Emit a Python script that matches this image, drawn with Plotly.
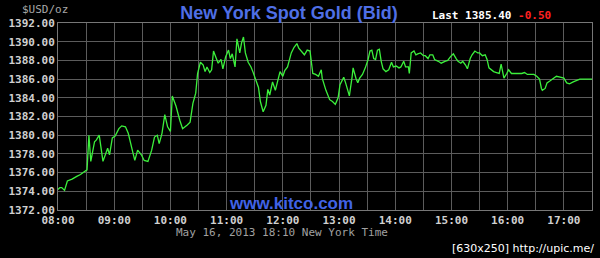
import plotly.graph_objects as go

DATE = "2013-05-16"
times = [
    "08:00", "08:02", "08:04", "08:07", "08:10", "08:15", "08:20", "08:24", "08:28", "08:31",
    "08:33", "08:35", "08:39", "08:41", "08:44", "08:48", "08:53", "08:55", "08:58", "09:01",
    "09:05", "09:08", "09:12", "09:15", "09:20", "09:22", "09:25", "09:29", "09:32", "09:36",
    "09:40", "09:43", "09:46", "09:48", "09:51", "09:54", "09:57", "10:00", "10:02", "10:06",
    "10:10", "10:13", "10:18", "10:21", "10:24", "10:27", "10:29", "10:32", "10:35", "10:37",
    "10:39", "10:42", "10:44", "10:46", "10:49", "10:51", "10:54", "10:56", "10:59", "11:02",
    "11:04", "11:06", "11:09", "11:11", "11:14", "11:16", "11:18", "11:20", "11:23", "11:26",
    "11:28", "11:31", "11:34", "11:36", "11:39", "11:42", "11:44", "11:46", "11:49", "11:52",
    "11:54", "11:57", "12:00", "12:02", "12:05", "12:09", "12:12", "12:15", "12:17", "12:20",
    "12:23", "12:26", "12:29", "12:32", "12:35", "12:38", "12:41", "12:42", "12:46", "12:50",
    "12:53", "12:56", "12:59", "13:01", "13:05", "13:07", "13:11", "13:14", "13:15", "13:18",
    "13:20", "13:22", "13:25", "13:28", "13:31", "13:33", "13:35", "13:37", "13:39", "13:41",
    "13:43", "13:45", "13:47", "13:50", "13:53", "13:56", "13:58", "14:01", "14:04", "14:06",
    "14:09", "14:11", "14:14", "14:15", "14:17", "14:20", "14:22", "14:24", "14:27", "14:30",
    "14:32", "14:35", "14:37", "14:40", "14:42", "14:46", "14:49", "14:53", "14:56", "14:59",
    "15:02", "15:05", "15:07", "15:10", "15:12", "15:15", "15:17", "15:20", "15:22", "15:25",
    "15:28", "15:30", "15:33", "15:36", "15:38", "15:40", "15:43", "15:45", "15:48", "15:51",
    "15:53", "15:55", "15:56", "15:59", "16:01", "16:04", "16:08", "16:11", "16:15", "16:18",
    "16:21", "16:25", "16:28", "16:31", "16:34", "16:36", "16:37", "16:40", "16:42", "16:45",
    "16:49", "16:52", "16:56", "17:00", "17:03", "17:06", "17:10", "17:13", "17:17", "17:21",
    "17:26", "17:30",
]
prices = [
    1374.2, 1374.4, 1374.4, 1374.1, 1375.1, 1375.3, 1375.6, 1375.8, 1376.1, 1376.3,
    1380.0, 1377.2, 1379.3, 1379.5, 1380.0, 1377.2, 1378.6, 1377.9, 1379.7, 1379.9,
    1380.7, 1381.0, 1380.9, 1380.2, 1378.1, 1377.3, 1378.4, 1377.9, 1377.3, 1377.2,
    1378.4, 1379.8, 1380.0, 1379.1, 1380.2, 1382.2, 1380.9, 1380.4, 1384.2, 1383.1,
    1381.6, 1380.7, 1381.1, 1381.4, 1383.4, 1384.5, 1386.6, 1387.8, 1387.5, 1386.8,
    1387.3, 1386.7, 1387.0, 1389.0, 1388.2, 1387.7, 1388.1, 1387.1, 1388.4, 1389.1,
    1388.2, 1388.7, 1387.3, 1390.3, 1388.8, 1389.9, 1390.5, 1388.8, 1387.8, 1387.3,
    1386.8, 1386.0, 1385.1, 1383.6, 1382.5, 1383.2, 1384.9, 1384.3, 1385.7, 1384.8,
    1385.6, 1386.8, 1386.3, 1386.9, 1387.3, 1388.8, 1389.4, 1389.8, 1389.3, 1389.0,
    1388.6, 1389.1, 1389.0, 1386.6, 1386.5, 1386.3, 1387.0, 1386.1, 1384.8, 1383.8,
    1383.6, 1383.3, 1384.0, 1385.4, 1386.2, 1385.6, 1384.2, 1386.3, 1387.2, 1386.1,
    1385.6, 1386.1, 1386.5, 1387.2, 1388.1, 1389.0, 1389.1, 1388.2, 1388.1, 1389.1,
    1389.2, 1387.9, 1387.1, 1386.8, 1387.0, 1387.8, 1387.3, 1387.4, 1387.2, 1387.3,
    1387.9, 1387.3, 1387.3, 1386.6, 1388.8, 1389.0, 1388.6, 1388.7, 1388.8, 1388.5,
    1388.5, 1388.2, 1388.6, 1388.6, 1388.1, 1387.9, 1387.7, 1387.9, 1388.0, 1388.4,
    1388.7, 1388.2, 1387.9, 1387.7, 1387.9, 1387.5, 1387.1, 1388.2, 1388.6, 1389.0,
    1388.8, 1388.8, 1388.5, 1388.6, 1388.1, 1387.2, 1387.0, 1386.8, 1386.7, 1386.6,
    1387.6, 1386.5, 1386.1, 1386.6, 1387.0, 1386.6, 1386.6, 1386.6, 1386.6, 1386.7,
    1386.5, 1386.5, 1386.5, 1386.3, 1386.0, 1385.0, 1384.8, 1385.0, 1385.6, 1385.8,
    1386.1, 1386.3, 1386.2, 1386.1, 1385.6, 1385.5, 1385.7, 1385.8, 1386.0, 1386.0,
    1386.0, 1386.0,
]
title_text = "New York Spot Gold (Bid)"
unit_text = "$USD/oz"
last_price = "1385.40"
change = "-0.50"
stamp_text = "May 16, 2013 18:10 New York Time"
site_text = "www.kitco.com"
watermark_text = "[630x250] http://upic.me/"

x = [f"{DATE} {t}" for t in times]

MONO = "DejaVu Sans Mono"
GRID = "#5c5c5c"

fig = go.Figure()
fig.add_trace(go.Scatter(x=x, y=prices, mode="lines",
                         line=dict(color="#3cf03c", width=1.3),
                         hoverinfo="skip", showlegend=False))

fig.update_layout(
    width=600, height=258,
    margin=dict(l=58, r=8, t=23, b=48),
    paper_bgcolor="black", plot_bgcolor="black",
    title=dict(text=title_text, x=289/600, xanchor="center", y=1-13/258, yanchor="middle",
               font=dict(family="Liberation Sans", size=18, color="#4f6fe6", weight="bold")),
    xaxis=dict(
        type="date",
        range=[f"{DATE} 08:00", f"{DATE} 17:30"],
        tick0=f"{DATE} 08:00", dtick=3600000, tickformat="%H:%M",
        showgrid=True, gridcolor=GRID, gridwidth=1,
        minor=dict(dtick=1800000, tick0=f"{DATE} 08:00", showgrid=True, gridcolor=GRID),
        showline=True, mirror=True, linecolor="#777777", linewidth=1,
        zeroline=False, ticks="",
        tickfont=dict(family=MONO, size=11, color="#d0d0d0", weight="bold"),
    ),
    yaxis=dict(
        range=[1372, 1392], dtick=2, tick0=1372, tickformat=".2f",
        showgrid=True, gridcolor=GRID, gridwidth=1,
        showline=True, mirror=True, linecolor="#777777", linewidth=1,
        zeroline=False, ticks="",
        tickfont=dict(family=MONO, size=11, color="#d0d0d0", weight="bold"),
    ),
    annotations=[
        dict(text=unit_text, xref="paper", yref="paper", x=(20-58)/534, y=(210-10)/187,
             xanchor="left", yanchor="middle", showarrow=False,
             font=dict(family=MONO, size=11, color="#a8a8a8")),
        dict(text=f"Last {last_price} <span style='color:#ff2020'>{change}</span>",
             xref="paper", yref="paper", x=(430-58)/534, y=(210-15)/187,
             xanchor="left", yanchor="middle", showarrow=False,
             font=dict(family=MONO, size=11, color="#ffffff", weight="bold")),
        dict(text=site_text, xref="paper", yref="paper", x=(290.5-58)/534, y=(210-203)/187,
             xanchor="center", yanchor="middle", showarrow=False,
             font=dict(family="Liberation Sans", size=17, color="#4063e6", weight="bold")),
        dict(text=stamp_text, xref="paper", yref="paper", x=(282-58)/534, y=(210-232)/187,
             xanchor="center", yanchor="middle", showarrow=False,
             font=dict(family=MONO, size=11, color="#a0a0a0")),
        dict(text=watermark_text, xref="paper", yref="paper", x=(596-58)/534, y=(210-248)/187,
             xanchor="right", yanchor="middle", showarrow=False,
             font=dict(family="DejaVu Sans", size=11, color="#ffffff")),
    ],
)

fig.write_html("out.html")
